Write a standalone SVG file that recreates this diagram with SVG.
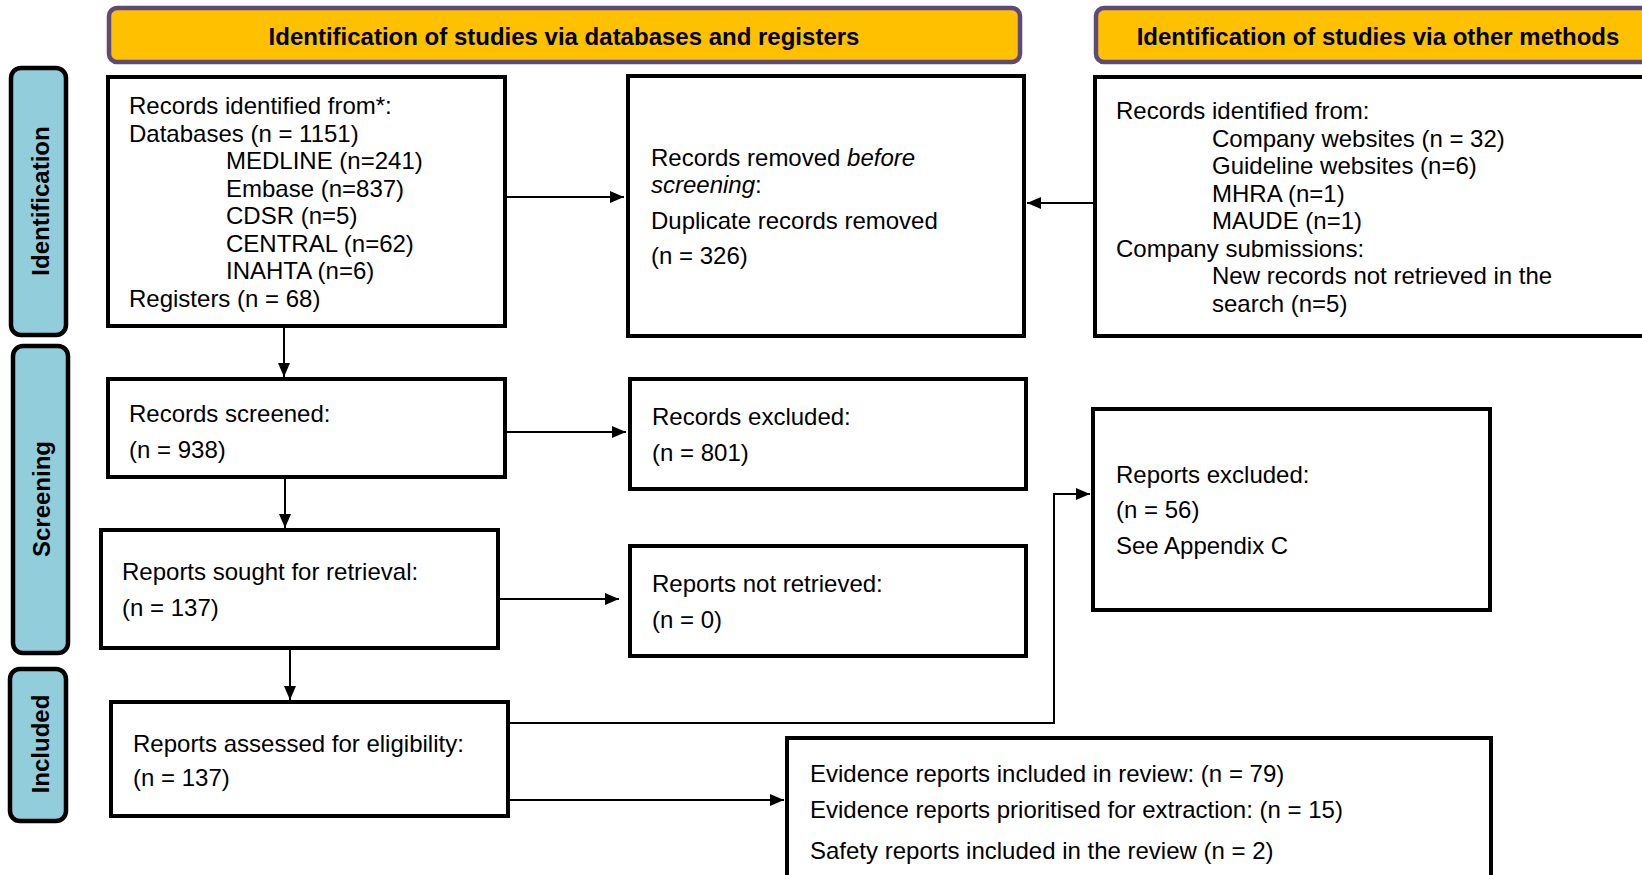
<svg xmlns="http://www.w3.org/2000/svg" width="1642" height="875" viewBox="0 0 1642 875">
<defs>
<marker id="ah" markerWidth="14" markerHeight="12" refX="14" refY="6" orient="auto" markerUnits="userSpaceOnUse">
<path d="M0,0 L14,6 L0,12 Z" fill="#000"/>
</marker>
<style>
text{font-family:"Liberation Sans",Arial,sans-serif;font-size:24px;fill:#000}
.hdr rect{fill:#FFC000;stroke:#5F497A;stroke-width:4.5}
.hdr text{font-weight:bold;text-anchor:middle}
.side rect{fill:#92CDDC;stroke:#000;stroke-width:4.5}
.side text{font-weight:bold;text-anchor:middle}
.box rect{fill:#fff;stroke:#000;stroke-width:4}
.conn path{fill:none;stroke:#000;stroke-width:2}
</style>
</defs>
<rect width="1642" height="875" fill="#fff"/>

<g id="hdr-db" class="hdr"><rect x="109" y="8" width="911" height="54" rx="8"/><text x="564" y="45">Identification of studies via databases and registers</text></g>
<g id="hdr-other" class="hdr"><rect x="1096" y="8" width="600" height="54" rx="8"/><text x="1378" y="45">Identification of studies via other methods</text></g>

<g id="side-identification" class="side"><rect x="11" y="68" width="55" height="267" rx="10"/><text transform="translate(49,201) rotate(-90)">Identification</text></g>
<g id="side-screening" class="side"><rect x="13" y="346" width="55" height="307" rx="10"/><text transform="translate(50,499) rotate(-90)">Screening</text></g>
<g id="side-included" class="side"><rect x="10" y="669" width="56" height="152" rx="10"/><text transform="translate(49,744) rotate(-90)">Included</text></g>

<g id="records-identified" class="box"><rect x="108" y="77" width="397" height="249"/>
<text x="129" y="114">Records identified from*:</text>
<text x="129" y="141.5">Databases (n = 1151)</text>
<text x="226" y="169">MEDLINE (n=241)</text>
<text x="226" y="196.5">Embase (n=837)</text>
<text x="226" y="224">CDSR (n=5)</text>
<text x="226" y="251.5">CENTRAL (n=62)</text>
<text x="226" y="279">INAHTA (n=6)</text>
<text x="129" y="306.5">Registers (n = 68)</text>
</g>

<g id="records-removed" class="box"><rect x="628" y="76" width="396" height="260"/>
<text x="651" y="166">Records removed <tspan font-style="italic">before</tspan></text>
<text x="651" y="193"><tspan font-style="italic">screening</tspan>:</text>
<text x="651" y="229">Duplicate records removed</text>
<text x="651" y="264">(n = 326)</text>
</g>

<g id="records-other" class="box"><rect x="1095" y="77" width="600" height="259"/>
<text x="1116" y="119">Records identified from:</text>
<text x="1212" y="146.5">Company websites (n = 32)</text>
<text x="1212" y="174">Guideline websites (n=6)</text>
<text x="1212" y="201.5">MHRA (n=1)</text>
<text x="1212" y="229">MAUDE (n=1)</text>
<text x="1116" y="256.5">Company submissions:</text>
<text x="1212" y="284">New records not retrieved in the</text>
<text x="1212" y="311.5">search (n=5)</text>
</g>

<g id="records-screened" class="box"><rect x="108" y="379" width="397" height="98"/>
<text x="129" y="422">Records screened:</text>
<text x="129" y="458">(n = 938)</text>
</g>

<g id="records-excluded" class="box"><rect x="630" y="379" width="396" height="110"/>
<text x="652" y="425">Records excluded:</text>
<text x="652" y="461">(n = 801)</text>
</g>

<g id="reports-sought" class="box"><rect x="101" y="530" width="397" height="118"/>
<text x="122" y="580">Reports sought for retrieval:</text>
<text x="122" y="616">(n = 137)</text>
</g>

<g id="reports-not-retrieved" class="box"><rect x="630" y="546" width="396" height="110"/>
<text x="652" y="592">Reports not retrieved:</text>
<text x="652" y="628">(n = 0)</text>
</g>

<g id="reports-excluded" class="box"><rect x="1093" y="409" width="397" height="201"/>
<text x="1116" y="483">Reports excluded:</text>
<text x="1116" y="518">(n = 56)</text>
<text x="1116" y="554">See Appendix C</text>
</g>

<g id="reports-assessed" class="box"><rect x="111" y="702" width="397" height="114"/>
<text x="133" y="752">Reports assessed for eligibility:</text>
<text x="133" y="786">(n = 137)</text>
</g>

<g id="reports-included" class="box"><rect x="787" y="738" width="704" height="150"/>
<text x="810" y="782">Evidence reports included in review: (n = 79)</text>
<text x="810" y="818">Evidence reports prioritised for extraction: (n = 15)</text>
<text x="810" y="859">Safety reports included in the review (n = 2)</text>
</g>

<g id="connectors" class="conn">
<path d="M284,328 V377" marker-end="url(#ah)"/>
<path d="M285,478 V528" marker-end="url(#ah)"/>
<path d="M290,650 V700" marker-end="url(#ah)"/>
<path d="M507,197 H624" marker-end="url(#ah)"/>
<path d="M1093,203 H1027" marker-end="url(#ah)"/>
<path d="M507,432 H626" marker-end="url(#ah)"/>
<path d="M500,599 H619" marker-end="url(#ah)"/>
<path d="M510,723 H1054 V494 H1090" marker-end="url(#ah)"/>
<path d="M510,800 H784" marker-end="url(#ah)"/>
</g>
</svg>
